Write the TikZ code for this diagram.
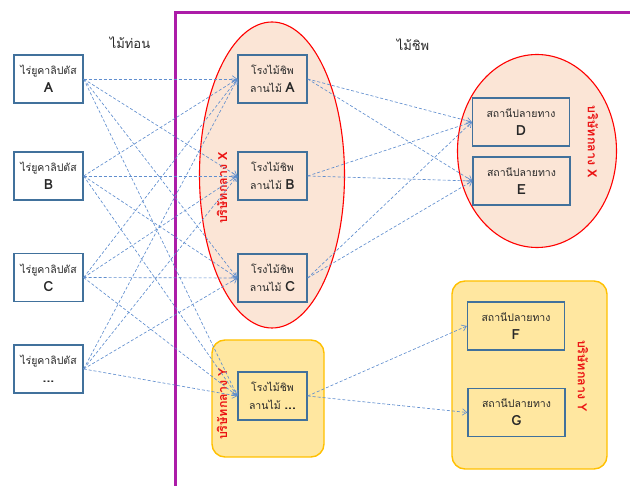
\documentclass[tikz,border=0pt]{standalone}
\usepackage{fontspec}
\setmainfont{Liberation Sans}
\newfontfamily\thai[Script=Thai]{Loma}
\usetikzlibrary{arrows.meta,shapes.geometric}

\definecolor{boxblue}{RGB}{65,113,156}
\definecolor{flowblue}{RGB}{96,142,206}
\definecolor{peach}{RGB}{251,229,214}
\definecolor{lightyellow}{RGB}{255,231,160}
\definecolor{goldline}{RGB}{255,192,0}
\definecolor{framepurple}{RGB}{172,28,168}
\definecolor{labelred}{RGB}{235,20,20}
\definecolor{inktext}{RGB}{40,40,40}

\newcommand{\lettr}[1]{{\bfseries\fontsize{14}{15}\selectfont #1}}

\tikzset{
  unitbox/.style={draw=boxblue, line width=1.3pt, inner sep=0pt, align=center, text=inktext,
    minimum width=69pt, minimum height=48pt, font=\thai\fontsize{10.5}{18}\selectfont},
  destbox/.style={unitbox, minimum width=97pt},
  group/.style={draw=red, line width=1.1pt, fill=peach},
  yellowgroup/.style={draw=goldline, line width=1.4pt, fill=lightyellow, rounded corners=13pt},
  grouplabel/.style={text=labelred, font=\thai\bfseries\fontsize{12.5}{14}\selectfont},
  header/.style={text=inktext, font=\thai\fontsize{13}{15}\selectfont},
  flow/.style={draw=flowblue, line width=0.65pt, dash pattern=on 3pt off 2pt,
    -{Straight Barb[length=4.5pt,width=6.5pt,line width=0.65pt]}},
}

\begin{document}
\begin{tikzpicture}[x=1pt,y=1pt]
\useasboundingbox (0,0) rectangle (630,-486);

% group backgrounds
\node[group, ellipse, minimum width=145pt, minimum height=306pt, inner sep=0pt] (gx1) at (272,-175) {};
\node[group, ellipse, minimum width=159pt, minimum height=193pt, inner sep=0pt] (gx2) at (537,-151) {};
\draw[yellowgroup] (212,-340) rectangle (324,-457);
\draw[yellowgroup] (452,-281) rectangle (607,-469);

% frame around the chip side
\draw[framepurple, line width=3pt] (175,-486) -- (175,-13) -- (630,-13);

% headers
\node[header] (hlog) at (130,-43) {ไม้ท่อน};
\node[header] (hchip) at (413,-45) {ไม้ชิพ};

% farms
\node[unitbox, fill=white] (fa) at (48.5,-79) {ไร่ยูคาลิปตัส\\\lettr{A}};
\node[unitbox, fill=white] (fb) at (48.5,-176) {ไร่ยูคาลิปตัส\\\lettr{B}};
\node[unitbox, fill=white] (fc) at (48.5,-277.5) {ไร่ยูคาลิปตัส\\\lettr{C}};
\node[unitbox, fill=white] (fd) at (48.5,-369) {ไร่ยูคาลิปตัส\\\lettr{...}};

% chip mills
\node[unitbox] (ma) at (272.5,-79) {โรงไม้ชิพ\\ลานไม้ \lettr{A}};
\node[unitbox] (mb) at (272.5,-176) {โรงไม้ชิพ\\ลานไม้ \lettr{B}};
\node[unitbox] (mc) at (272.5,-278) {โรงไม้ชิพ\\ลานไม้ \lettr{C}};
\node[unitbox] (md) at (272.5,-396) {โรงไม้ชิพ\\ลานไม้ \lettr{...}};

% destinations
\node[destbox] (dd) at (521,-122) {สถานีปลายทาง\\\lettr{D}};
\node[destbox] (de) at (521.5,-181) {สถานีปลายทาง\\\lettr{E}};
\node[destbox] (df) at (516,-326) {สถานีปลายทาง\\\lettr{F}};
\node[destbox] (dg) at (516.5,-412.5) {สถานีปลายทาง\\\lettr{G}};

% group labels
\node[grouplabel, rotate=90] (lx1) at (222,-188) {บริษัทกลาง X};
\node[grouplabel, rotate=90] (ly1) at (222,-404) {บริษัทกลาง Y};
\node[grouplabel, rotate=-90] (lx2) at (593,-142) {บริษัทกลาง X};
\node[grouplabel, rotate=-90] (ly2) at (583,-376) {บริษัทกลาง Y};

% logs: every farm to every mill
\foreach \f in {fa,fb,fc,fd}
  \foreach \m in {ma,mb,mc,md}
    \draw[flow] (\f.east) -- (\m.west);

% chips: mills to destinations
\foreach \m in {ma,mb,mc}
  \foreach \d in {dd,de}
    \draw[flow] (\m.east) -- (\d.west);
\draw[flow] (md.east) -- (df.west);
\draw[flow] (md.east) -- (dg.west);
\end{tikzpicture}
\end{document}
